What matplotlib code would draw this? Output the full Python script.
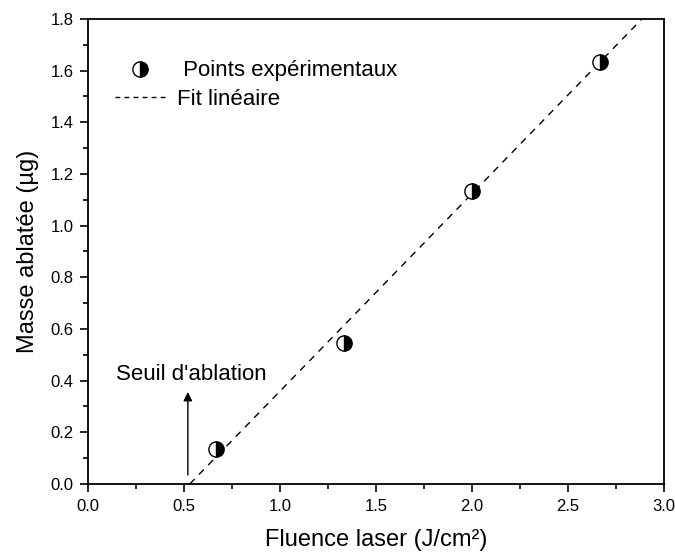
import matplotlib
matplotlib.use("Agg")
import matplotlib.pyplot as plt
from matplotlib.lines import Line2D
from matplotlib.ticker import MultipleLocator, FormatStrFormatter

plt.rcParams['font.family'] = ['Liberation Sans', 'DejaVu Sans']

# experimental points
fluence = [0.667, 1.333, 2.0, 2.667]
masse = [0.135, 0.547, 1.135, 1.632]

# linear fit (ends of the dashed line)
fit_x = [0.53, 2.885]
fit_y = [0.0, 1.8]

# ablation threshold arrow
seuil_x = 0.52
seuil_y = [0.035, 0.356]

fig = plt.figure(figsize=(6.75, 5.54), dpi=100)
ax = fig.add_axes([0.1304, 0.1264, 0.8533, 0.8394])

ax.plot(fit_x, fit_y, ls=(0, (5, 4.5)), color='black', lw=1.0)
ax.plot(fluence, masse, 'o', ms=11, fillstyle='right', markerfacecolor='black',
        markerfacecoloralt='white', markeredgecolor='black', markeredgewidth=1.0,
        ls='none')

ax.annotate('', xy=(seuil_x, seuil_y[1]), xytext=(seuil_x, seuil_y[0]),
            arrowprops=dict(arrowstyle='-|>', color='black', lw=1.0,
                            mutation_scale=13, shrinkA=0, shrinkB=0))
ax.text(0.146, 0.425, "Seuil d'ablation", fontsize=16, ha='left', va='center')

ax.set_xlim(0, 3.0)
ax.set_ylim(0, 1.8)
ax.xaxis.set_major_locator(MultipleLocator(0.5))
ax.xaxis.set_minor_locator(MultipleLocator(0.25))
ax.yaxis.set_major_locator(MultipleLocator(0.2))
ax.yaxis.set_minor_locator(MultipleLocator(0.1))
ax.xaxis.set_major_formatter(FormatStrFormatter('%.1f'))
ax.yaxis.set_major_formatter(FormatStrFormatter('%.1f'))
ax.tick_params(which='both', direction='out', top=False, right=False,
               labelsize=12, width=1.2)
ax.tick_params(which='major', length=5.5, pad=5)
ax.tick_params(which='minor', length=3.5)
for s in ax.spines.values():
    s.set_linewidth(1.3)

ax.set_xlabel('Fluence laser (J/cm²)', fontsize=17, labelpad=11)
ax.set_ylabel('Masse ablatée (µg)', fontsize=17, labelpad=8)

handles = [
    Line2D([], [], marker='o', ms=11, fillstyle='right', markerfacecolor='black',
           markerfacecoloralt='white', markeredgecolor='black', ls='none',
           label=' Points expérimentaux'),
    Line2D([], [], ls=(0, (3.5, 3)), color='black', lw=1.0, label='Fit linéaire'),
]
ax.legend(handles=handles, loc='upper left', bbox_to_anchor=(0.047, 0.911),
          frameon=False, fontsize=16, handlelength=2.25, handletextpad=0.54,
          labelspacing=0.33, borderpad=0, borderaxespad=0)

fig.savefig('out.png', dpi=100)
